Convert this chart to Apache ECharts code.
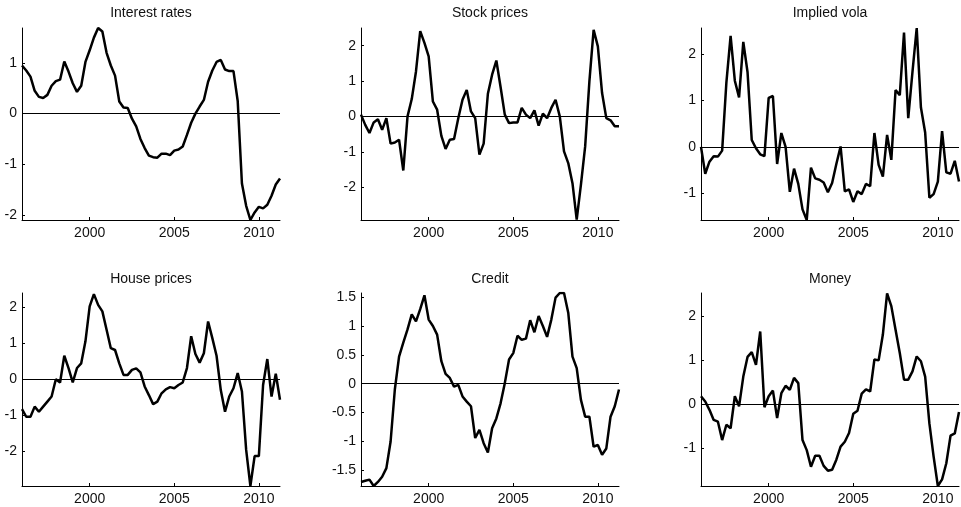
<!DOCTYPE html>
<html>
<head>
<meta charset="utf-8">
<script src="https://cdn.jsdelivr.net/npm/echarts@6/dist/echarts.min.js"></script>
<style>
  html, body { margin: 0; padding: 0; background: #fff; }
  #chart { width: 961px; height: 507px; }
</style>
</head>
<body>
<div id="chart"></div>
<script>
// ---- data ----
const quarters = Array.from({ length: 62 }, (_, i) => 1996 + i * 0.25);
const xTicks = [2000, 2005, 2010];

const titles = ['Interest rates', 'Stock prices', 'Implied vola', 'House prices', 'Credit', 'Money'];

const interestRates = [0.95,0.85,0.73,0.45,0.33,0.31,0.37,0.55,0.64,0.67,1.03,0.83,0.60,0.43,0.55,1.02,1.25,1.50,1.69,1.62,1.20,0.95,0.75,0.24,0.12,0.11,-0.10,-0.25,-0.50,-0.68,-0.83,-0.86,-0.87,-0.79,-0.79,-0.82,-0.73,-0.71,-0.65,-0.42,-0.18,0.00,0.14,0.27,0.63,0.85,1.02,1.06,0.87,0.84,0.84,0.25,-1.38,-1.82,-2.10,-1.95,-1.84,-1.87,-1.80,-1.62,-1.40,-1.28];
const stockPrices = [0.05,-0.24,-0.47,-0.17,-0.08,-0.38,-0.05,-0.77,-0.74,-0.66,-1.53,0.00,0.49,1.27,2.41,2.08,1.70,0.42,0.19,-0.55,-0.92,-0.66,-0.64,-0.05,0.47,0.75,0.14,-0.05,-1.08,-0.77,0.64,1.18,1.58,0.83,0.05,-0.19,-0.17,-0.17,0.24,0.05,-0.05,0.17,-0.26,0.08,-0.05,0.24,0.47,0.00,-0.99,-1.32,-1.89,-2.92,-1.93,-0.85,0.99,2.45,1.98,0.66,-0.05,-0.11,-0.28,-0.28];
const impliedVola = [0.0,-0.58,-0.32,-0.2,-0.21,-0.08,1.39,2.4,1.43,1.07,2.27,1.62,0.15,-0.03,-0.16,-0.2,1.06,1.1,-0.37,0.3,0.0,-0.97,-0.47,-0.8,-1.35,-1.58,-0.45,-0.68,-0.71,-0.77,-0.98,-0.78,-0.37,0.01,-0.96,-0.92,-1.19,-0.96,-1.02,-0.8,-0.85,0.3,-0.39,-0.64,0.26,-0.28,1.23,1.12,2.47,0.62,1.62,2.57,0.85,0.31,-1.1,-1.02,-0.75,0.34,-0.55,-0.58,-0.3,-0.75];
const housePrices = [-0.83,-1.04,-1.04,-0.76,-0.9,-0.76,-0.62,-0.48,0.0,-0.09,0.65,0.31,-0.09,0.31,0.44,1.05,2.02,2.36,2.06,1.88,1.37,0.86,0.81,0.44,0.12,0.12,0.26,0.3,0.19,-0.2,-0.44,-0.69,-0.62,-0.39,-0.28,-0.22,-0.25,-0.16,-0.09,0.31,1.19,0.7,0.46,0.72,1.6,1.14,0.65,-0.3,-0.9,-0.48,-0.25,0.17,-0.34,-1.96,-2.96,-2.13,-2.13,-0.16,0.56,-0.48,0.15,-0.57];
const credit = [-1.70,-1.68,-1.66,-1.77,-1.70,-1.61,-1.46,-1.0,-0.1,0.47,0.71,0.94,1.2,1.08,1.29,1.53,1.11,1.0,0.85,0.39,0.17,0.1,-0.05,-0.02,-0.22,-0.31,-0.39,-0.94,-0.8,-1.03,-1.19,-0.77,-0.6,-0.34,0.01,0.42,0.53,0.83,0.76,0.78,1.1,0.89,1.17,1.0,0.81,1.11,1.49,1.57,1.57,1.23,0.47,0.27,-0.28,-0.57,-0.57,-1.09,-1.06,-1.23,-1.12,-0.57,-0.39,-0.1];
const money = [0.18,0.06,-0.13,-0.36,-0.4,-0.82,-0.47,-0.55,0.18,-0.05,0.63,1.08,1.19,0.9,1.66,-0.07,0.18,0.31,-0.32,0.25,0.42,0.33,0.6,0.48,-0.82,-1.05,-1.43,-1.18,-1.18,-1.41,-1.52,-1.5,-1.27,-0.97,-0.86,-0.66,-0.22,-0.15,0.24,0.34,0.29,1.02,1.0,1.59,2.53,2.24,1.7,1.17,0.56,0.56,0.75,1.09,0.98,0.63,-0.44,-1.2,-1.87,-1.72,-1.35,-0.72,-0.67,-0.18];

const seriesValues = [interestRates, stockPrices, impliedVola, housePrices, credit, money];

const yMins = [-2.10, -2.93, -1.58, -2.96, -1.77, -1.87];
const yMaxs = [1.69, 2.50, 2.57, 2.39, 1.57, 2.54];
const yTicks = [
  [-2, -1, 0, 1],
  [-2, -1, 0, 1, 2],
  [-1, 0, 1, 2],
  [-2, -1, 0, 1, 2],
  [-1.5, -1, -0.5, 0, 0.5, 1, 1.5],
  [-1, 0, 1, 2]
];

// ---- layout ----
const layout = [
  { left: 22,  top: 28,  width: 258, height: 192 },
  { left: 361, top: 28,  width: 258, height: 192 },
  { left: 701, top: 28,  width: 258, height: 192 },
  { left: 22,  top: 293, width: 258, height: 193 },
  { left: 361, top: 293, width: 258, height: 193 },
  { left: 701, top: 293, width: 258, height: 193 }
];
const titleY = [13, 13, 13, 279, 279, 279];

const FONT = 'Liberation Sans, Arial, Helvetica, sans-serif';
const TEXT_COLOR = '#111';

const grid = [], xAxis = [], yAxis = [], series = [], graphic = [];

layout.forEach((g, k) => {
  grid.push({ left: g.left, top: g.top, width: g.width, height: g.height, containLabel: false });
  xAxis.push({
    type: 'value', gridIndex: k, min: quarters[0], max: quarters[quarters.length - 1],
    splitLine: { show: false },
    axisLine: { show: true, onZero: false, lineStyle: { color: '#000', width: 1 } },
    axisTick: { show: true, inside: true, length: 3, customValues: xTicks, lineStyle: { color: '#000' } },
    axisLabel: { customValues: xTicks, formatter: v => String(v), color: TEXT_COLOR, fontFamily: FONT, fontSize: 14, margin: 6 }
  });
  yAxis.push({
    type: 'value', gridIndex: k, min: yMins[k], max: yMaxs[k],
    splitLine: { show: false },
    axisLine: { show: true, onZero: false, lineStyle: { color: '#000', width: 1 } },
    axisTick: { show: true, inside: true, length: 3, customValues: yTicks[k], lineStyle: { color: '#000' } },
    axisLabel: { customValues: yTicks[k], formatter: v => String(v), color: TEXT_COLOR, fontFamily: FONT, fontSize: 14, margin: 5 }
  });
  series.push({
    type: 'line', xAxisIndex: k, yAxisIndex: k,
    data: quarters.map((q, i) => [q, seriesValues[k][i]]),
    showSymbol: false, symbol: 'none',
    lineStyle: { color: '#000', width: 2.5 },
    emphasis: { disabled: true },
    markLine: {
      silent: true, symbol: 'none', animation: false,
      label: { show: false },
      lineStyle: { color: '#000', width: 1, type: 'solid' },
      data: [{ yAxis: 0 }]
    }
  });
  graphic.push({
    type: 'text', x: g.left + g.width / 2, y: titleY[k],
    style: { text: titles[k], fill: TEXT_COLOR, font: '14px ' + FONT, textAlign: 'center', textVerticalAlign: 'middle' }
  });
});

const chart = echarts.init(document.getElementById('chart'), null, { renderer: 'canvas' });
chart.setOption({
  animation: false,
  backgroundColor: '#fff',
  grid, xAxis, yAxis, series, graphic
});
</script>
</body>
</html>
